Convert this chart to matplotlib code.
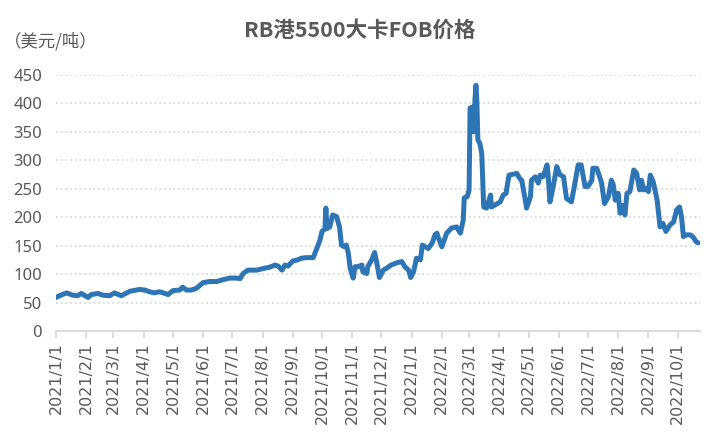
import pandas as pd
import matplotlib
matplotlib.use("Agg")
import matplotlib.pyplot as plt
import matplotlib.dates as mdates

# RB port 5500 kcal FOB price (USD/t)
dates = [
    "2021-01-01", "2021-01-06", "2021-01-12", "2021-01-18", "2021-01-23", "2021-01-27",
    "2021-01-30", "2021-02-03", "2021-02-06", "2021-02-13", "2021-02-18", "2021-02-25",
    "2021-03-02", "2021-03-09", "2021-03-18", "2021-03-28", "2021-04-02", "2021-04-07",
    "2021-04-12", "2021-04-17", "2021-04-23", "2021-04-26", "2021-05-01", "2021-05-08",
    "2021-05-11", "2021-05-15", "2021-05-20", "2021-05-25", "2021-06-01", "2021-06-08",
    "2021-06-15", "2021-06-21", "2021-06-28", "2021-07-05", "2021-07-09", "2021-07-12",
    "2021-07-17", "2021-07-26", "2021-08-02", "2021-08-08", "2021-08-14", "2021-08-17",
    "2021-08-21", "2021-08-24", "2021-08-27", "2021-09-01", "2021-09-06", "2021-09-10",
    "2021-09-15", "2021-09-22", "2021-09-25", "2021-09-29", "2021-10-01", "2021-10-04",
    "2021-10-05", "2021-10-06", "2021-10-09", "2021-10-12", "2021-10-16", "2021-10-19",
    "2021-10-21", "2021-10-24", "2021-10-26", "2021-10-28", "2021-10-30", "2021-11-02",
    "2021-11-04", "2021-11-07", "2021-11-11", "2021-11-12", "2021-11-16", "2021-11-17",
    "2021-11-21", "2021-11-24", "2021-11-26", "2021-11-29", "2021-12-03", "2021-12-06",
    "2021-12-11", "2021-12-17", "2021-12-22", "2021-12-25", "2021-12-29", "2021-12-31",
    "2022-01-03", "2022-01-06", "2022-01-10", "2022-01-12", "2022-01-15", "2022-01-18",
    "2022-01-22", "2022-01-25", "2022-01-27", "2022-01-28", "2022-02-01", "2022-02-06",
    "2022-02-11", "2022-02-16", "2022-02-20", "2022-02-23", "2022-02-24", "2022-02-27",
    "2022-03-01", "2022-03-02", "2022-03-05", "2022-03-06", "2022-03-07", "2022-03-08",
    "2022-03-09", "2022-03-10", "2022-03-12", "2022-03-14", "2022-03-15", "2022-03-16",
    "2022-03-19", "2022-03-23", "2022-03-24", "2022-03-30", "2022-04-02", "2022-04-05",
    "2022-04-08", "2022-04-09", "2022-04-11", "2022-04-19", "2022-04-22", "2022-04-24",
    "2022-04-28", "2022-04-29", "2022-05-03", "2022-05-04", "2022-05-08", "2022-05-11",
    "2022-05-13", "2022-05-16", "2022-05-20", "2022-05-21", "2022-05-23", "2022-05-26",
    "2022-05-30", "2022-06-02", "2022-06-06", "2022-06-07", "2022-06-09", "2022-06-14",
    "2022-06-17", "2022-06-21", "2022-06-24", "2022-06-28", "2022-07-01", "2022-07-05",
    "2022-07-06", "2022-07-10", "2022-07-13", "2022-07-15", "2022-07-18", "2022-07-22",
    "2022-07-25", "2022-07-27", "2022-07-29", "2022-08-01", "2022-08-03", "2022-08-05",
    "2022-08-08", "2022-08-10", "2022-08-13", "2022-08-17", "2022-08-20", "2022-08-23",
    "2022-08-25", "2022-08-27", "2022-08-30", "2022-09-01", "2022-09-03", "2022-09-06",
    "2022-09-10", "2022-09-13", "2022-09-16", "2022-09-19", "2022-09-23", "2022-09-27",
    "2022-09-30", "2022-10-03", "2022-10-05", "2022-10-07", "2022-10-10", "2022-10-14",
    "2022-10-17", "2022-10-20", "2022-10-22",
]
prices = [
    59, 63, 67, 63, 62, 66,
    63, 59, 64, 66, 63, 62,
    67, 62, 70, 73, 72, 69,
    67, 69, 66, 64, 71, 72,
    77, 72, 72, 75, 85, 87,
    87, 90, 93, 93, 92, 101,
    107, 107, 110, 112, 116, 114,
    107, 116, 114, 123, 125, 128,
    129, 129, 142, 160, 175, 179,
    216, 180, 183, 204, 201, 183,
    151, 148, 151, 137, 110, 93,
    113, 113, 116, 104, 101, 113,
    125, 138, 122, 94, 107, 110,
    116, 120, 122, 113, 107, 94,
    104, 128, 125, 151, 148, 145,
    154, 169, 172, 166, 148, 172,
    181, 183, 172, 195, 234, 236,
    248, 392, 394, 350, 406, 432,
    403, 336, 330, 312, 265, 218,
    216, 239, 218, 224, 227, 239,
    242, 254, 274, 277, 268, 265,
    227, 216, 236, 265, 271, 260,
    274, 271, 292, 277, 227, 251,
    289, 275, 271, 257, 233, 227,
    254, 292, 292, 254, 254, 265,
    286, 286, 271, 260, 224, 236,
    265, 257, 230, 242, 207, 221,
    204, 242, 245, 283, 277, 248,
    265, 248, 251, 245, 274, 262,
    230, 183, 189, 175, 186, 192,
    213, 218, 201, 166, 169, 169,
    165, 157, 155,
]

title = "RB港5500大卡FOB价格"
unit_label = "（美元/吨）"
y_ticks = [0, 50, 100, 150, 200, 250, 300, 350, 400, 450]

grey_text = "#595959"
grid_grey = "#D9D9D9"
line_blue = "#2E75B6"

plt.rcParams['font.family'] = ['Noto Sans CJK SC', 'DejaVu Sans']

df = pd.DataFrame({"date": pd.to_datetime(dates), "price": prices})

fig = plt.figure(figsize=(7.2, 4.32), dpi=100)
ax = fig.add_axes([56 / 720, 1 - 331 / 432, 644 / 720, 256 / 432])

ax.plot(df["date"], df["price"], color=line_blue, linewidth=3.6,
        solid_joinstyle="round", solid_capstyle="round", zorder=3)

ax.set_ylim(0, 450)
ax.set_yticks(y_ticks)
ax.set_xlim(pd.Timestamp("2021-01-01"), pd.Timestamp("2022-10-24"))

ax.xaxis.set_major_locator(mdates.MonthLocator())
ax.xaxis.set_major_formatter(
    plt.FuncFormatter(lambda v, _: "{d.year}/{d.month}/{d.day}".format(d=mdates.num2date(v))))

# dotted horizontal gridlines, no left spine
ax.grid(axis="y", color=grid_grey, linestyle=(0, (1, 1.6)), linewidth=1.3)
ax.set_axisbelow(True)
for side in ["left", "right", "top"]:
    ax.spines[side].set_visible(False)
ax.spines["bottom"].set_color(grid_grey)
ax.spines["bottom"].set_linewidth(1.3)

ax.tick_params(axis="y", length=0, pad=10, labelsize=12, labelcolor=grey_text,
               labelfontfamily="Noto Sans")
ax.tick_params(axis="x", length=5, width=1.3, color=grid_grey, pad=3,
               labelsize=11.5, labelcolor=grey_text, labelrotation=90,
               labelfontfamily="DejaVu Sans")

fig.text(0.5, 1 - 30 / 432, title, ha="center", va="center",
         fontsize=15.5, fontweight="bold", color=grey_text)
fig.text(4 / 720, 1 - 41 / 432, unit_label, ha="left", va="center",
         fontsize=12.5, color=grey_text)

fig.savefig("out.png", dpi=100, facecolor="white")
